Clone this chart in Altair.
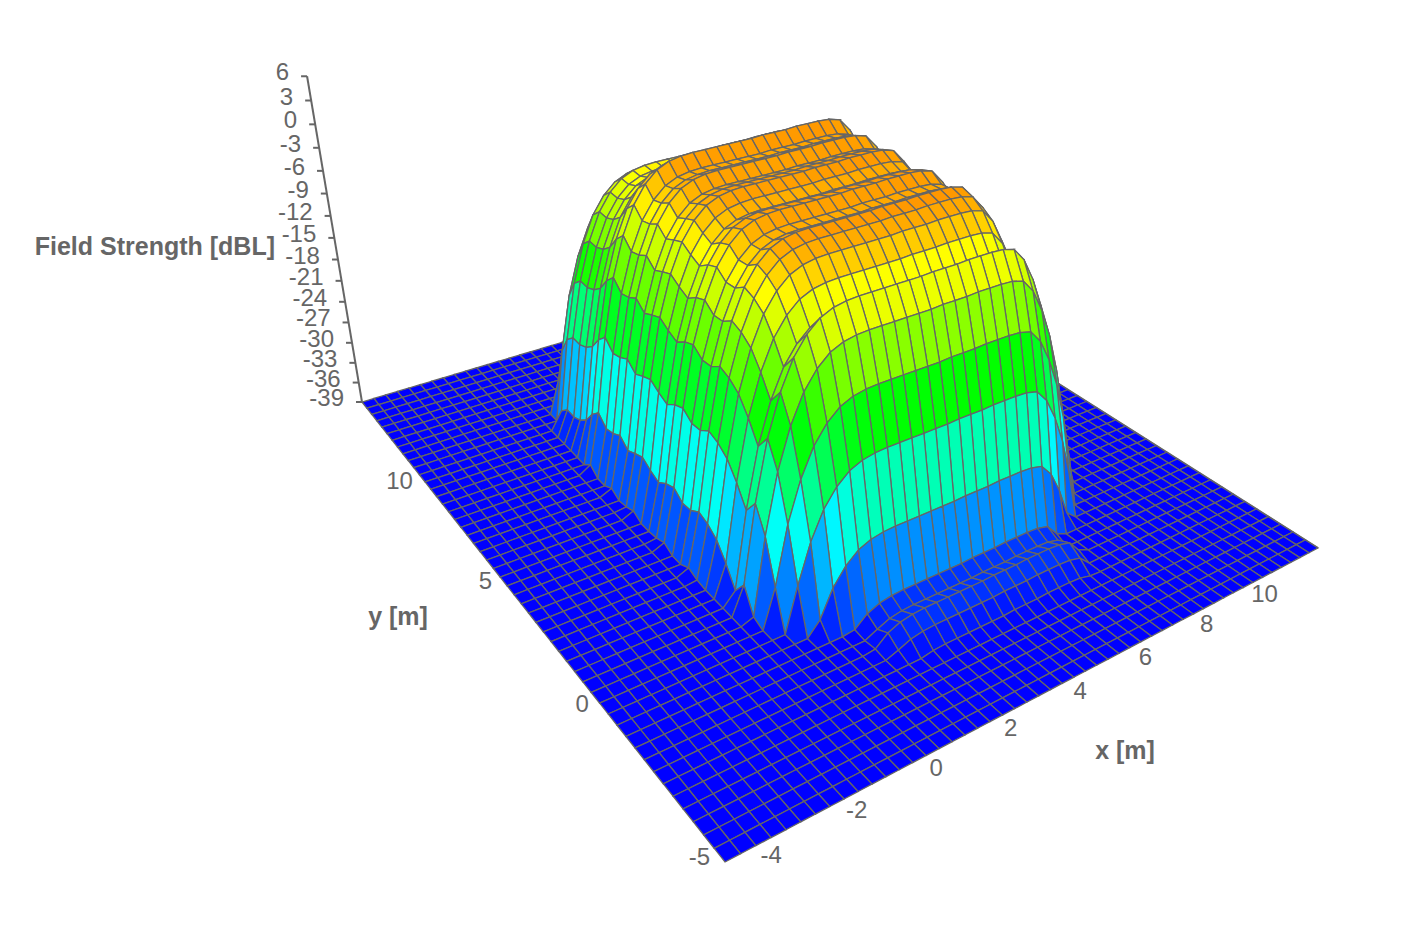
import altair as alt

# ---- data ----
X_MIN, X_MAX, Y_MIN, Y_MAX, Z_MIN, Z_MAX = -5, 12, -5, 15, -39, 6
X_TICKS = [-4, -2, 0, 2, 4, 6, 8, 10]
Y_TICKS = [-5, 0, 5, 10]
Z_TICKS = [6, 3, 0, -3, -6, -9, -12, -15, -18, -21, -24, -27, -30, -33, -36, -39]

# field-strength profile across x (51 samples, -5 .. 12 m)
PROFILE_X = [-60, -60, -60, -60, -60, -60, -60, -60, -60, -60,
             -60, -38, -31, -21, -13.5, -8.5, -5, -2.8, -1.4, -0.7,
             -0.4, -0.3, -0.3, -0.3, -0.3, -0.3, -0.3, -0.2, -0.2, -0.2,
             -0.1, -0.1, -0.1, -0.2, -0.6, -2.3, -5.2, -9, -14, -20,
             -28, -38, -60, -60, -60, -60, -60, -60, -60, -60, -60]
# field-strength profile across y (51 samples, -5 .. 15 m)
PROFILE_Y = [-60, -60, -60, -60, -60, -39.5, -38.3, -37, -36, -36.8,
             -36, -28.7, -19.7, -12.9, -7.4, -4.3, -6.3, -3.8, -1.8, -0.8,
             -0.3, -1.2, -1.3, -0.3, -0.8, -1.7, -1.1, -0.3, -0.8, -1.4,
             -0.3, -1, -1.3, 0, -1.2, -3, -4, -4.5, -4.4, -5.5,
             -8, -13, -20, -30, -45, -60, -60, -60, -60, -60, -60]
COLOR_STOPS = ["#0000ff", "#00ffff", "#00ff00", "#ffff00", "#ff0000"]
LINE = "#666666"

# ---- camera: plane homography + vertical vanishing point ----
A, B, C = 1012.5, -181.4, 725
D, E, F = -139.6, -258.3, 862
G, H = 0.3183, 0.5017
LAM, VX, VY = -0.003718, 800, 3000
PAGE = 8


def project(x, y, z):
    u = (x - X_MIN) / (X_MAX - X_MIN)
    v = (y - Y_MIN) / (Y_MAX - Y_MIN)
    h = LAM * (z - Z_MIN)
    w = G * u + H * v + 1 + h
    return [(A * u + B * v + C + h * VX) / w - PAGE,
            (D * u + E * v + F + h * VY) / w - PAGE]


def color(z):
    t = max(0, min(0.9999, (z - Z_MIN) / (Z_MAX - Z_MIN))) * (len(COLOR_STOPS) - 1)
    i = int(t)
    a, b = COLOR_STOPS[i], COLOR_STOPS[i + 1]
    f = t - i
    rgb = [round(int(a[k:k + 2], 16) * (1 - f) + int(b[k:k + 2], 16) * f) for k in (1, 3, 5)]
    return "#%02x%02x%02x" % tuple(rgb)


nx, ny = len(PROFILE_X), len(PROFILE_Y)
xs = [X_MIN + (X_MAX - X_MIN) * i / (nx - 1) for i in range(nx)]
ys = [Y_MIN + (Y_MAX - Y_MIN) * j / (ny - 1) for j in range(ny)]
zv = [[max(Z_MIN, PROFILE_X[i] + PROFILE_Y[j]) for j in range(ny)] for i in range(nx)]


def feature(geom_type, coords, col=""):
    return {"type": "Feature", "geometry": {"type": geom_type, "coordinates": coords},
            "properties": {"c": col}}


quads = []
for i in range(nx - 2, -1, -1):
    for j in range(ny - 2, -1, -1):
        corners = [(i, j), (i + 1, j), (i + 1, j + 1), (i, j + 1), (i, j)]
        ring = [[round(c, 2) for c in project(xs[a], ys[b], zv[a][b])] for a, b in corners]
        mean = sum(zv[a][b] for a, b in corners[:4]) / 4
        quads.append(feature("Polygon", [ring], color(mean)))

identity = dict(type="identity", scale=1, translate=[0, 0])

surface = alt.Chart(alt.Data(values=quads)).mark_geoshape(
    stroke=LINE, strokeWidth=1.3).encode(
    fill=alt.Fill("properties.c:N", scale=None)).project(**identity)

# z axis with ticks, far right edge
lines = [feature("LineString", [project(X_MIN, Y_MAX, Z_MIN), project(X_MIN, Y_MAX, Z_MAX)])]
for z in Z_TICKS:
    p = project(X_MIN, Y_MAX, z)
    lines.append(feature("LineString", [p, [p[0] - 6, p[1]]]))
lines.append(feature("LineString", [project(X_MAX, Y_MIN, Z_MIN), project(X_MAX, Y_MAX, Z_MIN)]))
axes = alt.Chart(alt.Data(values=lines)).mark_geoshape(
    filled=False, stroke=LINE, strokeWidth=2).project(**identity)

labels = []
for t in X_TICKS:
    p = project(t, Y_MIN, Z_MIN)
    labels.append({"lon": p[0] + 1, "lat": p[1] + 18, "t": str(t), "a": "center"})
for t in Y_TICKS:
    p = project(X_MIN, t, Z_MIN)
    labels.append({"lon": p[0] - 15, "lat": p[1] - 4, "t": str(t), "a": "right"})
for t in Z_TICKS:
    p = project(X_MIN, Y_MAX, t)
    labels.append({"lon": p[0] - 18, "lat": p[1] - 3, "t": str(t), "a": "right"})


def text_layer(rows, align, size, weight):
    return alt.Chart(alt.Data(values=rows)).mark_text(
        font="Liberation Sans", fontSize=size, fontWeight=weight, color="#666666",
        align=align, baseline="middle").encode(
        longitude="lon:Q", latitude="lat:Q", text="t:N").project(**identity)


tick_center = text_layer([r for r in labels if r["a"] == "center"], "center", 24, "normal")
tick_right = text_layer([r for r in labels if r["a"] == "right"], "right", 24, "normal")
title_right = text_layer([{"lon": 267, "lat": 239, "t": "Field Strength [dBL]"}], "right", 25, "bold")
titles = text_layer([{"lon": 390, "lat": 609, "t": "y [m]"},
                     {"lon": 1117, "lat": 743, "t": "x [m]"}], "center", 25, "bold")

chart = alt.layer(axes, surface, tick_center, tick_right, title_right, titles).properties(
    width=1389, height=920, padding=0, background="white",
    autosize=alt.AutoSizeParams(type="none")
).configure_view(stroke=None)

chart.save("out.html", embed_options={"renderer": "svg", "actions": False})
